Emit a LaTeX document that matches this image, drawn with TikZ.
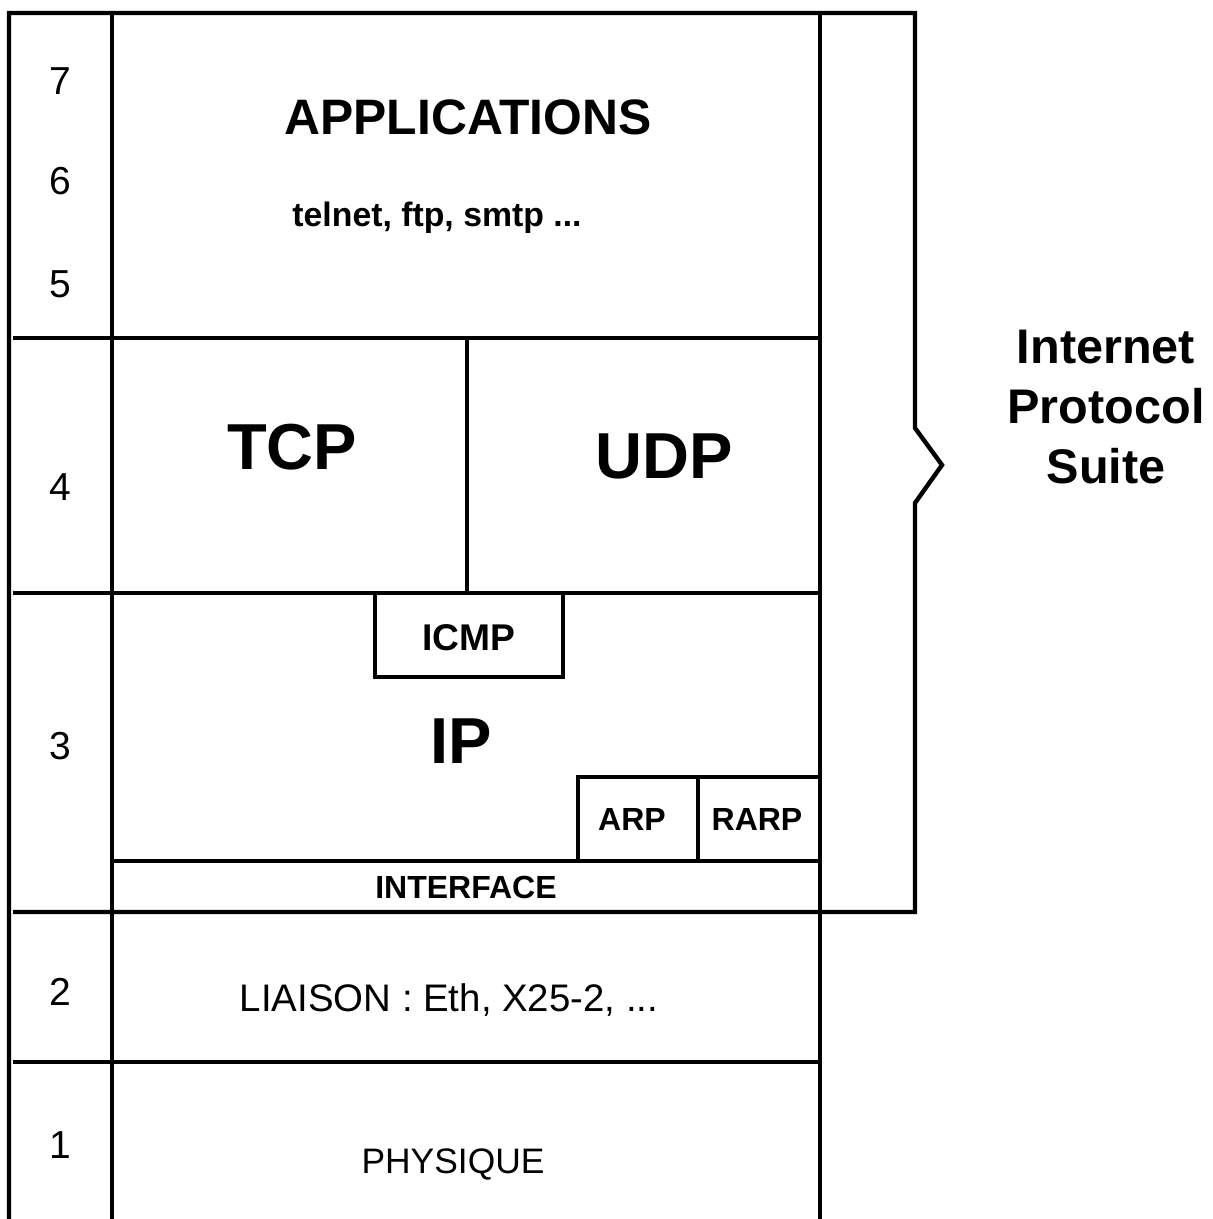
\documentclass[tikz,border=0pt]{standalone}
\usepackage{fontspec}
\setmainfont{Liberation Sans}
\tikzset{
rule/.style={line width=2.2pt, line join=miter}, % every line of the stack
every node/.style={inner sep=0pt, anchor=base}, % texts sit on their baseline
layernum/.style={font=\fontsize{19.5}{20}\selectfont}, % OSI numbers on the left
bigtitle/.style={font=\bfseries\fontsize{24.9}{26}\selectfont},
smallbold/.style={font=\bfseries\fontsize{16.9}{18}\selectfont},
proto/.style={font=\bfseries\fontsize{32.5}{34}\selectfont}, % TCP, UDP, IP
subproto/.style={font=\bfseries\fontsize{18.6}{20}\selectfont}, % ICMP
tinyproto/.style={font=\bfseries\fontsize{16}{17}\selectfont}, % ARP, RARP, INTERFACE
plainlayer/.style={font=\fontsize{19.2}{20}\selectfont},
suite/.style={anchor=center, align=center, font=\bfseries\fontsize{24.3}{30}\selectfont},
}
\begin{document}
\begin{tikzpicture}[x=0.5pt, y=-0.5pt]
\useasboundingbox (0,0) rectangle (1212,1219);

% frame and bracket of the suite
\draw[rule] (9,1219) -- (9,13) -- (915,13) -- (915,428) -- (942,465)
    -- (915,503) -- (915,912) -- (13,912);
\draw[rule] (112,13) -- (112,1219);
\draw[rule] (820,13) -- (820,1219);

% layer borders
\draw[rule] (13,338) -- (820,338);
\draw[rule] (13,593) -- (820,593);
\draw[rule] (112,861) -- (820,861);
\draw[rule] (13,1062) -- (820,1062);

% boxes inside the layers
\draw[rule] (467,338) -- (467,593);
\draw[rule] (375,593) -- (375,677) -- (563,677) -- (563,593);
\draw[rule] (578,861) -- (578,777) -- (820,777);
\draw[rule] (698,777) -- (698,861);

% layer numbers
\node[layernum] (n7) at (60,95) {7};
\node[layernum] (n6) at (60,195) {6};
\node[layernum] (n5) at (60,298) {5};
\node[layernum] (n4) at (60,500) {4};
\node[layernum] (n3) at (60,759) {3};
\node[layernum] (n2) at (60,1005) {2};
\node[layernum] (n1) at (60,1158) {1};

% contents
\node[bigtitle] (app) at (468,135) {APPLICATIONS};
\node[smallbold] (appex) at (437,227) {telnet, ftp, smtp ...};
\node[proto] (tcp) at (292,469) {TCP};
\node[proto] (udp) at (664,478) {UDP};
\node[subproto] (icmp) at (469,650) {ICMP};
\node[proto] (ip) at (461,763) {IP};
\node[tinyproto] (arp) at (632,830) {ARP};
\node[tinyproto] (rarp) at (757,830) {RARP};
\node[tinyproto] (iface) at (466,898) {INTERFACE};
\node[plainlayer] (liaison) at (449,1011) {LIAISON : Eth, X25-2, ...};
\node[plainlayer, font=\fontsize{17.7}{19}\selectfont] (phys) at (453,1173) {PHYSIQUE};

\node[suite] (ips) at (1106,407) {Internet\\Protocol\\Suite};
\end{tikzpicture}
\end{document}
